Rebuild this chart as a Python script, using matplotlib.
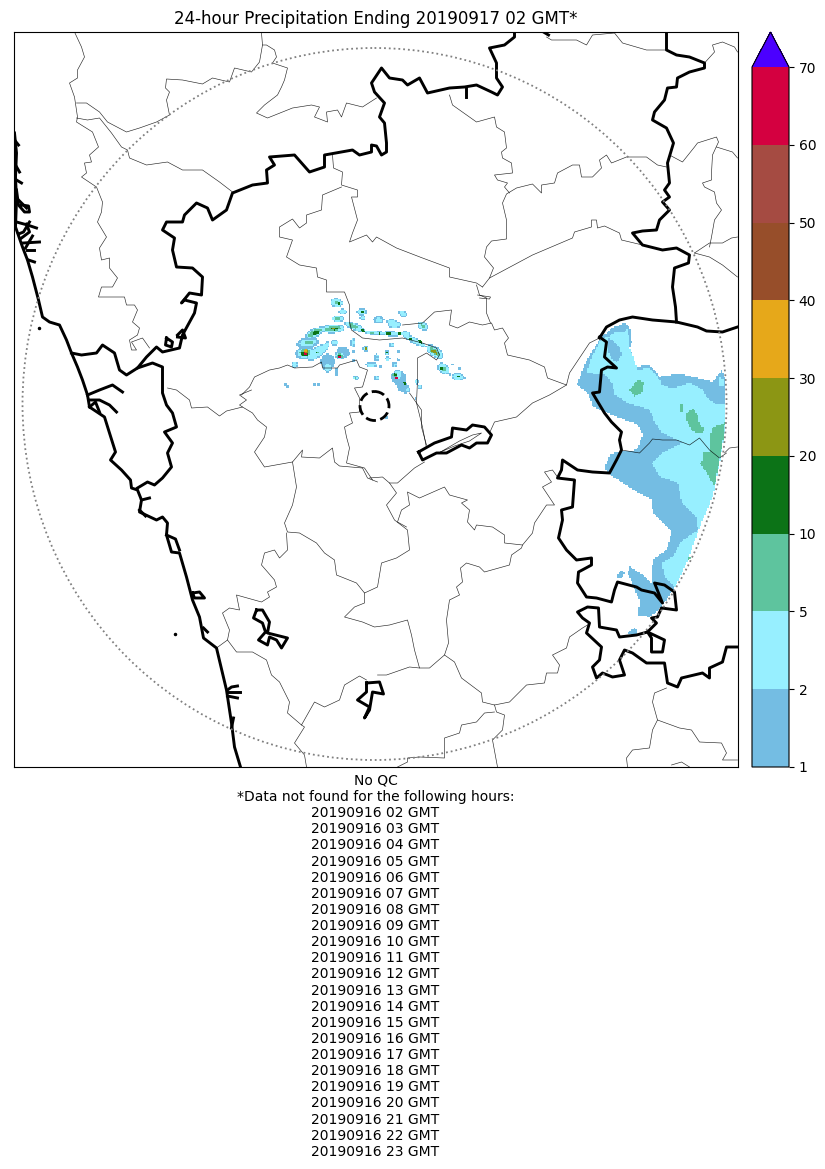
#! /usr/bin/env python
import numpy as np
import matplotlib
matplotlib.use('Agg')
import matplotlib.pyplot as plt
from matplotlib.colors import ListedColormap, BoundaryNorm
from matplotlib.cm import ScalarMappable
from matplotlib.patches import Ellipse
from matplotlib.path import Path

levels = [1, 2, 5, 10, 20, 30, 40, 50, 60, 70]
colors = ['#74bde3', '#97efff', '#5ec49e', '#0c7317', '#8c9614',
          '#e6a81a', '#974e2a', '#a54b42', '#d40040']
over_color = '#4b00ff'

title = '24-hour Precipitation Ending 20190917 02 GMT*'
missing_hours = ['20190916 %02d GMT' % h for h in range(2, 24)]
note = ['No QC', '*Data not found for the following hours:'] + missing_hours

# radar range ring and site marker
ring_x, ring_y, ring_w, ring_h = 375, 404, 704, 712
site_x, site_y, site_w, site_h = 375, 406, 29, 29

# thick borders (map coordinates)
coast = [(15,133),(17,153),(16,177),(17,200),(16,227),(23,247),(28,260),(33,277),(39,300),(43,317),
         (50,322),(60,325),(67,340),(72,353),(78,367),(83,380),(88,395),(90,407),(105,417),(110,433),
         (116,452),(111,460),(122,470),(131,480),(132,488),(138,490),(142,500),(140,512),(157,520),
         (163,517),(168,523),(167,535),(172,552),(180,553),(187,577),(193,600),(200,617),(204,638),
         (217,648),(227,690),(232,723),(235,747),(241,767)]
coast_inlets = [[(17,190),(19,205),(25,212),(30,212),(29,206),(22,205)], [(17,222),(28,225),(37,228)],
                [(19,234),(24,232),(30,222)], [(22,238),(30,232),(27,224)],
                [(24,243),(40,242)], [(27,250),(34,250)], [(26,248),(33,236)], [(29,260),(35,262)],
                [(88,395),(100,390),(113,385),(123,392)], [(90,400),(100,400),(110,405),(117,412)],
                [(90,407),(96,402),(100,412)], [(15,140),(19,145)], [(16,165),(20,172)],
                [(17,180),(22,183)], [(19,200),(27,208)], [(167,535),(176,539),(180,550)], [(142,500),(150,498)],
                [(140,510),(146,516)], [(228,692),(240,692)], [(228,690),(232,687),(238,686)],
                [(228,696),(238,698)], [(204,628),(208,632)], [(232,728),(234,718)]]
coast_loops = [[(193,593),(200,592),(205,598),(195,598),(193,593)],
               [(167,338),(173,342),(172,347),(166,345),(167,338)],
               [(178,335),(183,330),(186,338),(178,337)]]
north_border = [(72,353),(82,355),(97,353),(103,345),(115,353),(120,370),(127,375),(138,368),(147,357),
                (157,347),(163,352),(180,348),(183,335),(195,313),(197,303),(185,300),(182,303),(190,293),
                (202,295),(203,277),(193,268),(177,267),(173,250),(175,238),(163,230),(167,222),(173,222),
                (183,222),(185,215),(197,203),(208,208),(213,220),(227,210),(233,193),(253,185),(268,183),
                (267,170),(275,165),(270,157),(295,155),(310,172),(325,167),(325,155),(353,150),(360,155),
                (372,152),(372,145),(377,146),(382,155),(387,152),(387,143),(385,123),(380,117),(385,103),
                (375,92),(372,83),(382,68),(390,78),(403,80),(408,85),(420,78),(428,93),(450,88),(465,87),
                (477,85),(492,92),(498,95),(503,87),(497,78),(497,63),(490,48),(505,45),(515,37),(515,32)]
north_spike = [(466,87),(466,97)]
top_stub = [(544,32),(549,35)]
west_inner = [(138,368),(153,363),(163,367),(163,383),(163,393),(167,405),(173,413),(177,427),(165,432),
              (173,443),(168,453),(172,467),(163,478),(155,485),(148,482),(138,488)]
east_border = [(667,32),(667,50),(677,55),(690,57),(705,63),(705,68),(690,72),(678,78),(677,87),(668,88),
               (665,100),(655,112),(653,120),(667,128),(674,143),(668,163),(670,183),(665,190),(670,197),
               (663,202),(670,210),(660,220),(657,230),(643,231),(633,233),(643,245),(663,250),(677,248),
               (690,255),(689,263),(675,268),(673,287),(676,307),(677,322)]
gulf_arc = [(600,338),(607,327),(620,320),(633,317),(653,320),(677,322),(698,327),(707,331),(723,332),(738,327)]
rain_border = [(600,337),(607,342),(605,357),(617,368),(608,367),(602,370),(600,392),(593,393),(605,413),
               (612,422),(622,432),(620,440),(622,450),(617,460),(610,473),(593,472),(578,470),(563,460),
               (562,470),(558,478),(575,480),(573,507),(562,510),(563,520),(559,538),(567,550),(577,560),
               (592,558),(592,565),(579,572),(578,583),(587,597),(597,598),(612,602),(615,590),(618,582),
               (637,587),(642,590),(655,593),(663,603),(655,583),(665,585),(675,592),(677,610),(662,608),
               (658,617),(652,618),(657,623),(648,632),(637,635),(620,637),(617,630),(600,627),(599,608),
               (588,607),(578,612),(583,618),(590,623),(587,633),(602,647),(600,660),(593,667),(597,678),
               (603,673),(613,677),(625,675),(620,660),(625,650),(633,653),(647,663),(665,663),(668,683),
               (678,687),(682,678),(703,673),(710,678),(710,668),(723,662),(727,647),(738,647)]
rain_loop = [(648,632),(665,640),(663,652),(652,652),(652,638),(648,632)]
inland_loop = [(419,452),(435,443),(452,437),(453,428),(467,430),(473,425),(485,427),(492,435),(488,443),
               (477,443),(470,448),(462,445),(447,453),(437,453),(423,460),(419,452)]
island_a = [(257,610),(263,610),(270,622),(268,633),(288,638),(282,648),(277,640),(270,637),(268,645),
            (259,640),(266,632),(263,623),(254,618),(257,610)]
island_b = [(367,683),(380,682),(384,694),(373,692),(370,710),(365,718),(370,707),(358,700),(367,692),(367,683)]
stray_dots = [(39,328),(175,634)]

# thin borders
thin_a = [(75,32),(82,47),(85,57),(78,70),(78,78),(70,83),(75,97),(78,117),(77,122),(93,132),(99,147),(90,155),
          (92,162),(85,163),(87,173),(82,177),(97,187),(103,202),(102,212),(98,222),(107,237),(100,248),(102,260),
          (110,258),(110,268),(118,278),(113,287),(102,287),(99,297),(125,297),(127,305),(135,305),(138,310),
          (133,322),(140,328),(138,335),(130,340),(132,350),(137,350),(132,342),(143,338),(150,348)]
thin_b = [(77,103),(87,103),(100,112),(108,122),(127,132),(140,128),(157,122),(170,115),(167,100),(170,92),(166,88),
          (167,79),(183,80),(203,84),(213,78),(230,82),(235,68),(252,72),(260,62),(263,45),(262,33)]
thin_c = [(263,45),(267,45),(275,50),(277,57),(273,63),(288,68),(285,80),(282,87),(278,95),(265,105),(257,113),
          (268,118),(293,108),(312,105),(320,107),(315,117),(328,122),(327,112),(338,110),(342,117),(347,103),
          (363,107),(377,98)]
thin_d = [(77,118),(88,120),(100,118),(112,133),(122,147),(128,150),(130,158),(147,165),(168,162),(183,170),
          (203,170),(220,182),(233,192)]
thin_e = [(333,155),(334,168),(343,172),(342,185),(358,190),(358,197),(352,197),(358,220),(353,233),(350,242),
          (367,235),(373,242),(377,237),(397,248),(423,258),(450,268),(450,277),(477,283),(483,287)]
thin_f = [(342,187),(323,195),(322,210),(307,215),(307,223),(300,228),(293,219),(280,227),(280,237),(293,240),
          (287,257),(300,265),(317,268),(318,277),(327,280),(327,292),(345,292),(350,305),(350,322),(352,330),
          (363,338),(380,340),(403,338),(423,343),(437,348),(440,355),(437,360),(427,353),(418,358),(418,380),
          (417,403),(423,427),(427,448)]
thin_g = [(403,325),(423,323),(435,312),(452,310),(450,325),(458,328),(470,322),(483,325),(492,323),(495,330),
          (503,328),(509,338),(505,343),(508,355),(530,360),(545,367),(548,378),(567,385),(570,373),(590,343),(600,338)]
thin_h = [(567,385),(550,395),(533,403),(517,417),(495,422),(490,433)]
thin_i = [(483,287),(490,278),(533,255),(573,238),(575,232),(592,227),(592,220),(597,220),(598,228),(605,226),
          (620,233),(622,240),(643,245)]
thin_j = [(477,285),(480,295),(487,298),(487,313),(491,323)]
thin_j2 = [(478,295),(491,297),(490,299),(480,298)]
thin_k = [(490,278),(494,268),(485,257),(487,247),(492,241),(507,239),(507,220),(503,203),(507,194),(517,188),
          (533,184),(542,193),(542,185),(555,183),(558,173),(573,165),(580,165),(582,177),(593,177),(602,168),
          (600,160),(607,155),(612,163),(627,157),(647,157),(658,165),(667,167)]
thin_l = [(450,95),(453,105),(477,122),(495,117),(497,127),(505,132),(507,148),(502,152),(503,158),(512,163),
          (513,173),(495,175),(498,180),(508,183),(505,187),(510,193)]
thin_m = [(547,37),(552,40),(577,40),(587,45),(593,35),(615,33),(623,43),(647,50),(667,50)]
thin_n = [(705,63),(715,52),(713,45),(723,42),(735,47),(738,52)]
thin_o = [(670,155),(683,162),(695,147),(698,143),(717,137),(719,142),(713,155),(712,173),(712,180),(703,183),
          (705,187),(715,192),(717,203),(722,210),(715,220),(712,237),(710,247)]
thin_p = [(717,147),(733,152),(738,158)]
thin_q = [(695,253),(710,243),(723,243),(732,238),(738,237)]
thin_r = [(695,253),(710,257),(723,265),(738,277)]
thin_s = [(242,395),(250,387),(255,377),(270,370),(280,368),(288,365),(295,368),(313,367),(322,362),(323,368),
          (338,368),(340,365),(357,360),(360,367),(368,370),(363,387),(355,388),(360,398),(360,412),(350,413),
          (353,423),(345,427),(347,437),(350,448),(347,463),(365,468),(373,480)]
thin_t = [(168,388),(177,390),(190,400),(192,408),(208,407),(220,416),(227,411),(243,407),(253,413),(258,420),
          (267,427),(265,437),(255,452),(265,467),(293,462),(303,450),(302,457),(320,458),(333,448),(335,462),
          (340,466),(363,468),(368,478),(378,482)]
thin_t2 = [(252,390),(240,395),(247,400),(240,405),(243,407)]
thin_u = [(410,393),(422,410),(422,427),(427,445)]
thin_v = [(370,478),(383,477),(390,483),(398,483),(415,468),(425,462)]
thin_w = [(390,483),(397,493),(387,505),(395,520),(408,530),(410,550),(397,558),(382,563),(378,587),(365,593),
          (357,583),(337,575),(335,560),(325,553),(317,543),(300,533),(288,532),(285,523),(293,505),(297,487),(293,462)]
thin_x = [(287,533),(288,550),(280,558),(275,550),(265,553),(262,565),(275,580),(277,587),(268,592),(270,597),
          (262,602),(237,595),(240,610),(230,608),(223,613),(230,630),(228,640),(217,648)]
thin_y = [(228,640),(237,652),(253,652),(267,660),(272,675),(280,682),(290,702),(288,713),(302,725),(315,702),
          (325,707),(340,700),(345,685),(360,676),(367,680)]
thin_z = [(302,725),(305,727),(295,743),(305,755),(307,767)]
thin_aa = [(365,593),(365,603),(355,607),(345,617),(363,622),(375,627),(390,625),(408,620),(412,635),(415,650),
           (420,668),(430,668),(445,655),(449,643),(447,620),(450,600),(460,595),(457,587),(463,582),(461,568),
           (467,563),(480,567),(485,572),(510,565),(512,555),(522,548),(523,545),(505,543),(505,535),(493,527),
           (477,525),(475,530),(468,522),(470,510),(462,503),(468,500),(450,495),(445,487),(420,498),(408,492),
           (410,505),(402,510),(398,522),(407,527)]
thin_ab = [(523,545),(533,533),(535,523),(547,505),(555,505),(543,487),(552,482),(545,472),(553,470),(558,477)]
thin_ac = [(445,655),(455,662),(462,678),(482,693),(483,702),(495,705),(510,702),(527,685),(545,683),(547,673),
           (558,673),(560,665),(553,655),(567,648),(570,637),(583,628),(588,625)]
thin_ad = [(420,668),(410,667),(387,675),(378,675)]
thin_ae = [(495,705),(497,712),(505,715),(503,730),(493,740),(498,767)]
thin_af = [(495,712),(485,713),(477,722),(462,725),(460,733),(445,738),(445,758),(420,757),(408,758),(408,762),(398,767)]
thin_ag = [(667,688),(655,693),(653,702),(658,720),(653,730),(650,748),(633,750),(627,758),(628,767)]
thin_ah = [(658,720),(680,728),(692,730),(700,742),(722,743),(727,753),(723,760),(738,760)]
thin_ai = [(672,765),(682,762),(690,767)]
thin_aj = [(738,447),(730,448),(725,453)]
thin_ak = [(622,450),(640,453),(650,443),(653,439),(663,440),(677,440),(690,445),(700,438),(710,450),(720,458),(727,453)]
thin_al = [(441,452),(460,441),(473,435),(482,433),(470,441),(455,446),(441,452)]

# rain shield polygons, 1-2 mm / 2-5 mm / 5-10 mm
rain_1_2 = [(602,337),(613,328),(625,323),(630,328),(632,343),(630,348),(637,367),(650,365),(660,377),(680,374),
            (697,378),(713,382),(722,370),(725,378),(725,433),(720,463),(713,497),(700,527),(687,563),(675,588),
            (663,605),(657,612),(650,617),(638,616),(640,602),(628,573),(630,567),(643,575),(652,583),(653,560),
            (667,550),(672,532),(653,513),(652,500),(637,492),(610,475),(605,468),(610,455),(618,452),(637,450),
            (643,435),(638,425),(607,413),(593,407),(588,393),(577,385),(587,360),(602,337)]
rain_1_2_b = [(617,575),(622,571),(625,573),(622,579),(618,579)]
rain_1_2_c = [(627,633),(635,628),(638,633),(632,635)]
rain_2_5 = [(602,339),(610,336),(617,332),(625,332),(627,328),(630,342),(630,348),(638,370),(650,368),(660,380),
            (662,385),(673,389),(690,383),(703,390),(707,398),(717,405),(725,404),(725,433),(720,463),(713,497),
            (700,527),(687,563),(675,588),(665,577),(662,563),(673,557),(680,543),(698,530),(697,518),(682,502),
            (678,483),(660,477),(652,463),(663,453),(683,443),(662,433),(655,423),(650,410),(627,403),(615,395),
            (612,383),(605,374),(595,374),(587,372),(592,357)]
rain_2_5_b = [(720,378),(724,380),(724,386),(720,386)]
rain_1_2_top = [(609,338),(615,343),(620,348),(622,355),(617,362),(612,360),(608,350)]
rain_5_10_a = [(630,390),(638,380),(644,382),(643,392),(635,397)]
rain_5_10_b = [(680,404),(683,405),(683,412),(680,412)]
rain_5_10_c = [(687,413),(693,409),(698,415),(700,426),(705,427),(703,433),(693,432),(687,420)]
rain_5_10_d = [(710,437),(713,428),(725,423),(723,443),(720,458),(710,452)]
rain_5_10_e = [(703,453),(710,452),(720,458),(715,487),(707,473),(700,463),(703,462)]
rain_5_10_f = [(687,563),(692,557),(688,557)]

# convective cells by class: x, y, width, height, tilt
cells_blue = [(337,303,13,9,10),(379,320,11,8,0),(305,353,19,13,-10),(308,343,23,11,-8),(343,353,14,12,0),
              (328,362,16,14,-80),(337,372,2,12,0),(399,378,16,14,40),(403,387,16,10,40),(287,386,6,3,40),
              (315,385,4,3,0),(319,385,3,3,0),(353,352,3,3,0),(353,361,3,3,0),(381,367,3,3,0),(391,320,4,2,0),
              (398,352,3,3,0),(398,360,3,3,0),(464,378,3,3,0),(460,368,3,3,0),(450,374,3,3,0),(387,418,3,3,0),
              (416,398,2,3,0),(452,365,3,2,0)]
cells_cyan = [(337,303,11,7,10),(343,312,6,4,0),(338,319,10,5,0),(362,312,8,5,0),(363,318,4,3,0),(379,320,6,4,0),
              (392,322,8,3,0),(392,325,6,2,0),(355,327,20,5,22),(375,333,20,3,5),(392,334,20,3,2),(315,333,18,7,-25),
              (333,329,22,7,-3),(308,343,16,7,-8),(305,353,15,9,-10),(317,353,20,8,-40),(323,350,18,5,-50),
              (340,356,8,6,0),(328,368,6,8,0),(335,343,6,4,0),(353,343,3,8,0),(366,349,4,4,0),(387,353,3,3,0),
              (372,365,10,3,0),(356,378,4,2,0),(377,378,3,3,0),(392,345,3,3,0),(377,356,3,2,0),(377,359,3,2,0),
              (295,365,5,4,0),(403,314,7,4,15),(395,325,12,5,0),(405,334,8,3,0),(423,326,10,6,35),(415,341,24,4,28),
              (435,352,18,8,35),(444,369,12,8,40),(458,377,10,6,0),(398,375,8,8,0),(388,359,3,3,0),(395,365,3,3,0),
              (417,382,3,3,0),(420,387,3,3,0),(408,390,3,3,0)]
cells_green = [(337,303,4,3,0),(338,319,5,2.5,0),(353,326,10,4,25),(372,333,5,2,0),(315,333,14,5,-25),
               (333,329,18,4,-3),(309,343,8,4,0),(305,353,10,8,0),(317,353,5,2,-20),(340,356,6,5,0),(356,378,2,2,0),
               (387,353,3,2,0),(423,326,6,3,35),(435,352,12,5,35),(444,369,6,5,40),(395,375,4,5,0)]
cells_dark = [(339,304,3,2,0),(362,312,3,2.5,0),(363,331,5,2,10),(388,334,3,2,0),(380,334,2,2,0),(390,334,3,2,0),
              (400,334,3,2,0),(316,333,8,3,-25),(335,329,8,2.5,-3),(305,354,8,5,0),(317,353,2,2,0),(340,356,4,3,0),
              (387,353,2,1.5,0),(419,341,4,2,30),(410,339,3,2,0),(422,343,2,2,0),(436,353,3,2,0),(442,369,3,3,0),
              (458,377,3,2,0),(395,375,3,3,0),(405,383,3,3,0)]
cells_olive = [(334,329,3,2,0),(366,349,2,2,0),(435,352,7,3,35),(306,352,5,5,0)]
cells_orange = [(306,351,3,3,0)]
cells_red = [(305,354,3,3,0),(340,357,2,2,0),(397,378,2,2,0)]
grid_step = 1.5

fig = plt.figure(figsize=(8.25, 11.69), dpi=100)
W, H = 825.0, 1169.0
ax = fig.add_axes([13.5 / W, 1 - 767 / H, 724 / W, 735 / H])
ax.set_xlim(14, 738)
ax.set_ylim(767, 32)
ax.set_xticks([])
ax.set_yticks([])

cmap = ListedColormap(colors)
cmap.set_over(over_color)
norm = BoundaryNorm(levels, cmap.N)

ring = Ellipse((ring_x, ring_y), ring_w, ring_h, fill=False, ec='gray', ls=':', lw=1.3, zorder=4)
ax.add_patch(ring)

# put the rain on a coarse grid, the original is a gridded field
xe = np.arange(280, 732, grid_step)
ye = np.arange(295, 645, grid_step)
xc, yc = np.meshgrid(xe[:-1] + grid_step / 2, ye[:-1] + grid_step / 2)
field = np.full(xc.shape, np.nan)
pts_all = np.column_stack([xc.ravel(), yc.ravel()])

for pts, lev in [(rain_1_2, 0), (rain_1_2_b, 0), (rain_1_2_c, 0), (rain_2_5, 1), (rain_2_5_b, 1),
                 (rain_1_2_top, 0), (rain_5_10_a, 2), (rain_5_10_b, 2), (rain_5_10_c, 2),
                 (rain_5_10_d, 2), (rain_5_10_e, 2), (rain_5_10_f, 2)]:
    inside = Path(pts + [pts[0]]).contains_points(pts_all).reshape(xc.shape)
    field[inside] = lev


def paint(cells, lev, grow=0.0):
    for x, y, w, h, tilt in cells:
        t = np.radians(tilt)
        dx, dy = xc - x, yc - y
        u = dx * np.cos(t) + dy * np.sin(t)
        v = -dx * np.sin(t) + dy * np.cos(t)
        hit = (u / (w / 2 + grow)) ** 2 + (v / (h / 2 + grow)) ** 2 <= 1
        field[hit] = lev


paint(cells_cyan, 0, grow=1.0)
paint(cells_blue, 0)
paint(cells_cyan, 1)
paint(cells_green, 2)
paint(cells_dark, 3)
paint(cells_olive, 4)
paint(cells_orange, 5)
paint(cells_red, 8)

bin_mid = [(levels[i] + levels[i + 1]) / 2 for i in range(len(colors))]
values = np.full(field.shape, np.nan)
for i, mid in enumerate(bin_mid):
    values[field == i] = mid
mesh = ax.pcolormesh(xe, ye, np.ma.masked_invalid(values), cmap=cmap, norm=norm, zorder=1, linewidth=0)
mesh.set_clip_path(Ellipse((ring_x, ring_y), ring_w - 2, ring_h - 2, transform=ax.transData))

thin_lines = [thin_a, thin_b, thin_c, thin_d, thin_e, thin_f, thin_g, thin_h, thin_i, thin_j, thin_j2,
              thin_k, thin_l, thin_m, thin_n, thin_o, thin_p, thin_q, thin_r, thin_s, thin_t, thin_t2,
              thin_u, thin_v, thin_w, thin_x, thin_y, thin_z, thin_aa, thin_ab, thin_ac, thin_ad,
              thin_ae, thin_af, thin_ag, thin_ah, thin_ai, thin_aj, thin_ak, thin_al]
for pts in thin_lines:
    xs, ys = zip(*pts)
    ax.plot(xs, ys, color='k', lw=0.45, alpha=0.85, zorder=2, solid_joinstyle='round')

thick_lines = [coast, north_border, north_spike, top_stub, west_inner, east_border, gulf_arc, rain_border,
               rain_loop, inland_loop, island_a, island_b] + coast_inlets + coast_loops
for pts in thick_lines:
    xs, ys = zip(*pts)
    ax.plot(xs, ys, color='k', lw=2.1, zorder=3, solid_joinstyle='round')

xs, ys = zip(*stray_dots)
ax.plot(xs, ys, '.', color='k', ms=3, zorder=3)

ax.add_patch(Ellipse((site_x, site_y), site_w, site_h, fill=False, ec='k', ls='--', lw=2, zorder=4))

ax.set_title(title, fontsize=12, pad=6)
ax.set_xlabel('\n'.join(note), fontsize=10, labelpad=5, linespacing=1.193)

cax = fig.add_axes([752 / W, 1 - 767 / H, 37 / W, 735 / H])
cb = fig.colorbar(ScalarMappable(norm=norm, cmap=cmap), cax=cax, extend='max',
                  ticks=levels, spacing='uniform', extendfrac=0.05)
cb.ax.tick_params(labelsize=10)

fig.savefig('out.png', dpi=100)
